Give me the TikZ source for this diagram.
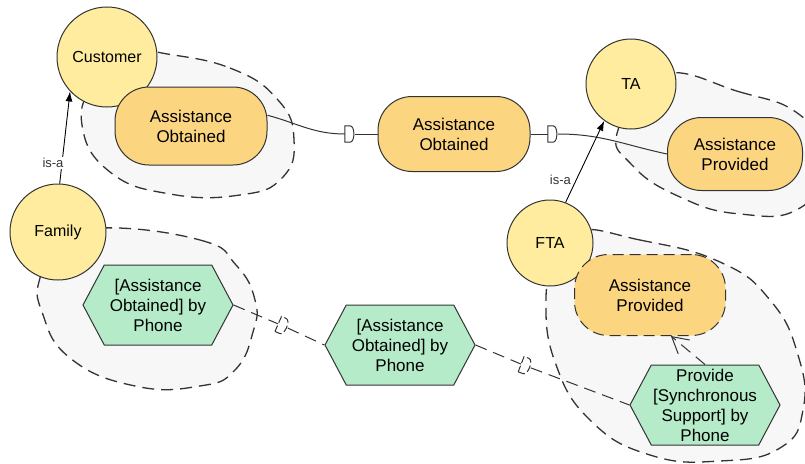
\documentclass[tikz,border=0pt]{standalone}
\usepackage{fontspec}
\setmainfont{Liberation Sans}
\usetikzlibrary{shapes.symbols,arrows.meta}
\definecolor{actorfill}{HTML}{FFEC9E}
\definecolor{goalfill}{HTML}{FCD581}
\definecolor{taskfill}{HTML}{B5EBC9}
\definecolor{boundfill}{HTML}{F7F7F7}
\definecolor{edge}{HTML}{333333}
\begin{document}
\begin{tikzpicture}[x=1pt,y=-1pt,
    actor/.style={circle,draw=edge,fill=actorfill,line width=1pt,inner sep=0pt,
      font=\fontsize{16}{19}\selectfont},
    goal/.style={rectangle,rounded corners=34pt,draw=edge,fill=goalfill,line width=1pt,
      minimum width=152pt,minimum height=78pt,align=center,font=\fontsize{17}{20}\selectfont},
    task/.style={signal,signal to=east and west,signal pointer angle=124,draw=edge,
      fill=taskfill,line width=1pt,minimum width=150pt,minimum height=80pt,inner sep=0pt,
      align=center,font=\fontsize{17}{20}\selectfont},
    bound/.style={draw=edge,fill=boundfill,line width=1.3pt,dash pattern=on 12pt off 7pt},
    dsym/.style={minimum width=10pt,minimum height=16pt,inner sep=0pt},
    dshape/.style={draw=edge,fill=white,line width=1pt},
    dep/.style={draw=edge,line width=1pt},
    ddep/.style={dep,dash pattern=on 12pt off 7pt},
    isa/.style={-{Latex[length=10pt,width=7pt]},line width=0.9pt},
    lbl/.style={font=\fontsize{13}{15}\selectfont,text=edge,fill=white,inner sep=1pt}]
  \useasboundingbox (0,0) rectangle (805,463);
  \clip (0,0) rectangle (805,463);
  % boundaries
  \path[bound] plot[smooth cycle,tension=0.8] coordinates {(157,52) (230,68) (278,100)
    (294,140) (282,178) (240,195) (170,194) (110,172) (82,125) (95,80) (125,45)};
  \path[bound] plot[smooth cycle,tension=0.8] coordinates {(100,228) (200,240) (236,265)
    (255,300) (253,332) (235,370) (200,386) (135,386) (70,358) (42,312) (40,278) (60,245)};
  \path[bound] plot[smooth cycle,tension=0.8] coordinates {(660,75) (740,92) (800,115)
    (830,160) (800,208) (740,214) (680,197) (632,165) (618,130)};
  \path[bound] plot[smooth cycle,tension=0.8] coordinates {(575,232) (640,240) (720,262)
    (770,300) (798,355) (803,410) (780,448) (720,461) (650,455) (590,420) (555,362)
    (546,300) (555,270)};
  % actors
  \node[actor,minimum size=100pt] (cust) at (107,57) {Customer};
  \node[actor,minimum size=96pt] (fam) at (58,232) {Family};
  \node[actor,minimum size=90pt] (ta) at (631,84) {TA};
  \node[actor,minimum size=86pt] (fta) at (550,243) {FTA};
  % goals and tasks
  \node[goal] (ao1) at (191,126) {Assistance\\Obtained};
  \node[goal,minimum height=75pt] (ao2) at (454,134) {Assistance\\Obtained};
  \node[goal,minimum width=135pt,minimum height=73pt] (ap1) at (735,154) {Assistance\\Provided};
  \node[goal,dash pattern=on 11pt off 6pt,minimum width=151pt,minimum height=81pt] (ap2)
    at (650,295) {Assistance\\Provided};
  \node[task] (ph1) at (158,305) {[Assistance\\Obtained] by\\Phone};
  \node[task] (ph2) at (400,345) {[Assistance\\Obtained] by\\Phone};
  \node[task] (ph3) at (705,405) {Provide\\{[Synchronous}\\Support] by\\Phone};
  % dependency marks
  \node[dsym] (d1) at (350,134) {};
  \node[dsym] (d2) at (553,134) {};
  \node[dsym,rotate=-23.5] (d3) at (283,326) {};
  \node[dsym,rotate=-21] (d4) at (526,366) {};
  \draw[dep] (ao1.8) to[out=-15,in=180] (d1.west);
  \draw[dep] (d1.east) -- (ao2.west);
  \draw[dep] (ao2.east) -- (d2.west);
  \draw[dep] (d2.east) to[out=0,in=168] (ap1.west);
  \draw[ddep] (ph1.east) -- (d3.west);
  \draw[ddep] (d3.east) -- (ph2.west);
  \draw[ddep] (ph2.east) -- (d4.west);
  \draw[ddep] (d4.east) -- (ph3.west);
  \foreach \d in {d1,d2}
    \draw[dshape] (\d.south west) -- (\d.south) .. controls (\d.south east) and
      (\d.north east) .. (\d.north) -- (\d.north west) -- cycle;
  \foreach \d in {d3,d4}
    \draw[dshape,dash pattern=on 7pt off 3pt] (\d.south west) -- (\d.south) .. controls
      (\d.south east) and (\d.north east) .. (\d.north) -- (\d.north west) -- cycle;
  % is-a and means-end
  \draw[isa] (fam.88) -- (cust.223) node[lbl,pos=0.22,xshift=-9pt] {is-a};
  \draw[isa] (fta.69) -- (ta.234) node[lbl,pos=0.28,xshift=-16pt] {is-a};
  \draw[ddep,-{Straight Barb[length=16pt,width=18pt,line width=1pt]}] (ph3.north)
    -- (ap2.-63);
\end{tikzpicture}
\end{document}
